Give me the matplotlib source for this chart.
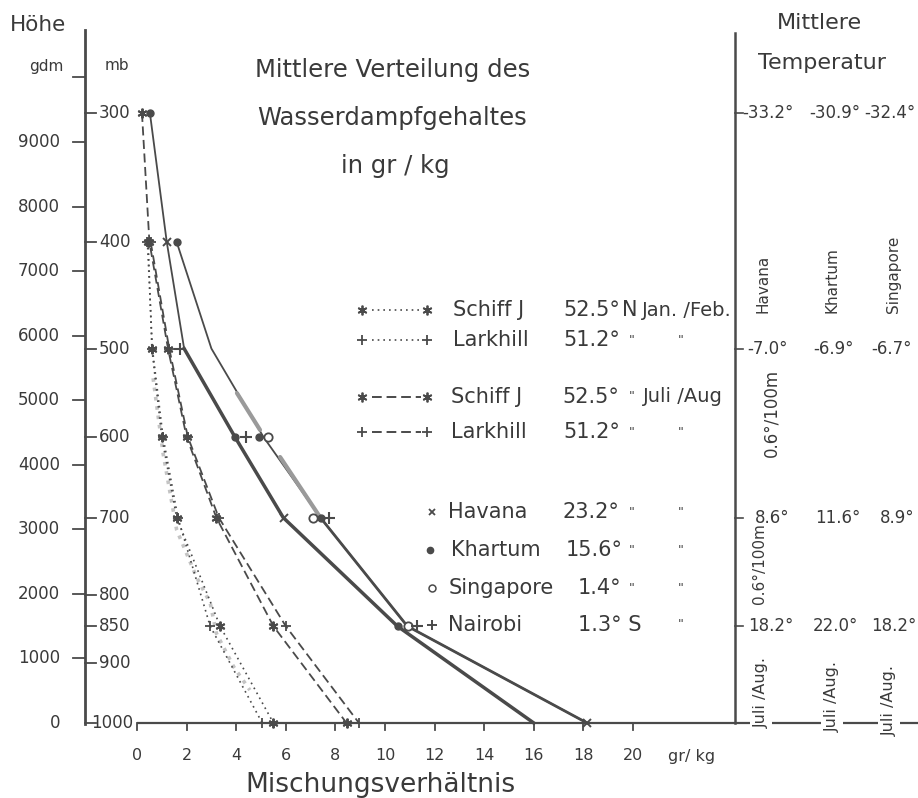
import matplotlib
matplotlib.use("Agg")
import matplotlib.pyplot as plt
import matplotlib.transforms as mtransforms

plt.rcParams['font.family'] = ['DejaVu Sans']

# ---------------- data ----------------
x_ticks = [0, 2, 4, 6, 8, 10, 12, 14, 16, 18, 20]
height_ticks = [0, 1000, 2000, 3000, 4000, 5000, 6000, 7000, 8000, 9000, 10000]
height_labels = ['0', '1000', '2000', '3000', '4000', '5000', '6000', '7000', '8000', '9000', '']
pressure_levels = [300, 400, 500, 600, 700, 800, 850, 900, 1000]
pressure_heights = [9450, 7450, 5800, 4430, 3180, 1990, 1500, 930, 0]

# Europe (mixing ratio g/kg at pressure levels)
schiff_jan_levels = [400, 500, 600, 700, 850, 1000]
schiff_jan = [0.45, 0.6, 1.0, 1.6, 3.35, 5.5]
larkhill_jan_levels = [400, 500, 600, 700, 850, 1000]
larkhill_jan = [0.42, 0.62, 1.05, 1.65, 2.95, 5.05]
schiff_jul_levels = [300, 400, 500, 600, 700, 850, 1000]
schiff_jul = [0.2, 0.5, 1.25, 2.0, 3.2, 5.5, 8.45]
larkhill_jul_levels = [400, 500, 600, 700, 850, 1000]
larkhill_jul = [0.55, 1.3, 2.05, 3.3, 6.0, 8.95]

# pale (erased) dotted trace: (mixing ratio, height gdm)
pale_trace_x = [0.65, 1.05, 1.6, 2.4, 2.95, 3.2, 3.9, 4.55]
pale_trace_h = [5340, 4180, 2990, 2260, 1860, 1390, 870, 510]

# tropical curves
curve_a_levels = [300, 400, 500, 600, 700, 850, 1000]
curve_a = [0.52, 1.2, 1.9, 3.95, 5.9, 10.5, 16.0]
curve_b_levels = [400, 500, 600, 700, 850, 1000]
curve_b = [1.6, 3.0, 5.1, 7.4, 10.9, 18.15]
curve_b_gray_x = [[4.03, 4.96], [5.77, 7.38]]
curve_b_gray_h = [[5110, 4540], [4120, 3190]]

havana_levels = [400, 700, 1000]
havana_pts = [1.2, 5.93, 18.15]
khartum_levels = [300, 400, 600, 600, 700, 850]
khartum_pts = [0.52, 1.6, 3.95, 4.9, 7.4, 10.52]
singapore_levels = [600, 700, 850]
singapore_pts = [5.3, 7.1, 10.93]
nairobi_levels = [500, 600, 700, 850]
nairobi_pts = [1.73, 4.4, 7.75, 11.3]

stations_right = ['Havana', 'Khartum', 'Singapore']
temp_300 = ['-33.2°', '-30.9°', '-32.4°']
temp_500 = ['-7.0°', '-6.9°', '-6.7°']
temp_700 = ['8.6°', '11.6°', '8.9°']
temp_850 = ['18.2°', '22.0°', '18.2°']

# ---------------- figure ----------------
W, H = 918, 798
INK = '#4a4a4a'
TXT = '#3a3a3a'
fig = plt.figure(figsize=(W / 100, H / 100), dpi=100)
ax = fig.add_axes([0, 0, 1, 1])
X0_PX, PX_PER_UNIT = 137, 24.8
Y0_PX, PX_PER_GDM = 723, 0.06456
ax.set_xlim((0 - X0_PX) / PX_PER_UNIT, (W - X0_PX) / PX_PER_UNIT)
ax.set_ylim((Y0_PX - H) / PX_PER_GDM, Y0_PX / PX_PER_GDM)
ax.axis('off')

pix = mtransforms.Affine2D().scale(1 / W, -1 / H).translate(0, 1) + fig.transFigure
xpix_ydata = mtransforms.blended_transform_factory(pix, ax.transData)
xdata_ypix = mtransforms.blended_transform_factory(ax.transData, pix)

lvl = dict(zip(pressure_levels, pressure_heights))
def hts(levels):
    return [lvl[p] for p in levels]

# ---------- axes ----------
# bottom axis
ax.plot([x_ticks[0], ax.get_xlim()[1]], [0, 0], color=INK, lw=1.6, solid_capstyle='butt')
for t in x_ticks:
    ax.plot([t, t], [723, 730], color=INK, lw=1.3, transform=xdata_ypix)
    ax.text(t, 756, str(t), transform=xdata_ypix, ha='center', va='center',
            fontsize=11.5, color=TXT)
ax.text(692, 757, 'gr/ kg', transform=pix, ha='center', va='center', fontsize=11.5, color=TXT)
ax.text(380, 785, 'Mischungsverhältnis', transform=pix, ha='center', va='center',
        fontsize=19, color=TXT)

# left vertical axis
ax.plot([85, 85], [-20, 10740], color=INK, lw=2.0, transform=xpix_ydata)
for h, lab in zip(height_ticks, height_labels):
    if h > 0:
        ax.plot([73, 85], [h, h], color=INK, lw=1.3, transform=xpix_ydata)
    if lab:
        ax.text(60, h, lab, transform=xpix_ydata, ha='right', va='center',
                fontsize=12, color=TXT)
for p, h in zip(pressure_levels, pressure_heights):
    ax.plot([85, 96], [h, h], color=INK, lw=1.3, transform=xpix_ydata)
    ax.text(91 if p == 1000 else 99, h, str(p), transform=xpix_ydata, ha='left',
            va='center', fontsize=12, color=TXT)

ax.text(10, 25, 'Höhe', transform=pix, ha='left', va='center', fontsize=15.5, color=TXT)
ax.text(46, 67, 'gdm', transform=pix, ha='center', va='center', fontsize=11, color=TXT)
ax.text(117, 66, 'mb', transform=pix, ha='center', va='center', fontsize=11, color=TXT)

# title
ax.text(393, 70, 'Mittlere Verteilung des', transform=pix, ha='center', va='center',
        fontsize=17.5, color=TXT)
ax.text(392, 118, 'Wasserdampfgehaltes', transform=pix, ha='center', va='center',
        fontsize=17.5, color=TXT)
ax.text(395, 166, 'in gr / kg', transform=pix, ha='center', va='center',
        fontsize=17.5, color=TXT)

# right vertical line with temperature ticks
ax.plot([735, 735], [lvl[1000], 10690], color=INK, lw=1.8, transform=xpix_ydata)
for p in [300, 500, 700, 850]:
    ax.plot([735, 743], [lvl[p], lvl[p]], color=INK, lw=1.2, transform=xpix_ydata)
ax.text(819, 23, 'Mittlere', transform=pix, ha='center', va='center', fontsize=16, color=TXT)
ax.text(822, 63, 'Temperatur', transform=pix, ha='center', va='center', fontsize=16, color=TXT)

col_x = [{'300': 768, '500': 768, '700': 772, '850': 771},
         {'300': 835, '500': 833, '700': 838, '850': 835},
         {'300': 890, '500': 891, '700': 897, '850': 894}]
for i in range(3):
    for key, vals in [('300', temp_300), ('500', temp_500), ('700', temp_700), ('850', temp_850)]:
        ax.text(col_x[i][key], lvl[int(key)], vals[i], transform=xpix_ydata,
                ha='center', va='center', fontsize=12, color=TXT)
for name, x, yb in zip(stations_right, [763, 832, 893], [313, 313, 313]):
    ax.text(x, yb, name, transform=pix, rotation=90, ha='center', va='bottom',
            fontsize=11, color=TXT)
ax.text(771, 413, '0.6°/100m', transform=pix, rotation=90, ha='center', va='center',
        fontsize=12, color=TXT)
ax.text(760, 564, '0.6°/100m', transform=pix, rotation=90, ha='center', va='center',
        fontsize=11, color=TXT)
for x, y in [(761, 693), (832, 697), (889, 700)]:
    ax.text(x, y, 'Juli /Aug.', transform=pix, rotation=90, ha='center', va='center',
            fontsize=11.5, color=TXT,
            bbox=dict(boxstyle='square,pad=0.25', fc='white', ec='none'))

# ---------- data curves ----------
dot = (0, (1, 2.4))
dash = (0, (5, 2.5))
ast = (6, 2, 0)

ax.plot(pale_trace_x, pale_trace_h, color='#c4c4c4', lw=2.6, ls=(0, (1, 1.6)))

ax.plot(schiff_jan, hts(schiff_jan_levels), color=INK, lw=1.2, ls=dot,
        marker=ast, ms=7, mew=1.4)
ax.plot(larkhill_jan, hts(larkhill_jan_levels), color=INK, lw=1.2, ls=dot,
        marker='+', ms=7, mew=1.3)
ax.plot(schiff_jul, hts(schiff_jul_levels), color=INK, lw=1.3, ls=dash,
        marker=ast, ms=7, mew=1.4)
ax.plot(larkhill_jul, hts(larkhill_jul_levels), color=INK, lw=1.3, ls=dash,
        marker='+', ms=7, mew=1.3)

ax.plot(curve_a, hts(curve_a_levels), color=INK, lw=1.3)
ax.plot(curve_a[2:], hts(curve_a_levels[2:]), color=INK, lw=2.5)
ax.plot(curve_b, hts(curve_b_levels), color=INK, lw=1.3)
ax.plot(curve_b[3:], hts(curve_b_levels[3:]), color=INK, lw=2.0)
for gx, gh in zip(curve_b_gray_x, curve_b_gray_h):
    ax.plot(gx, gh, color='#9a9a9a', lw=3.0, solid_capstyle='round')

ax.plot(havana_pts, hts(havana_levels), ls='none', marker='x', ms=6, mew=1.4, color=INK)
ax.plot(khartum_pts, hts(khartum_levels), ls='none', marker='o', ms=5, color=INK)
ax.plot(singapore_pts, hts(singapore_levels), ls='none', marker='o', ms=6, mew=1.3,
        mfc='white', color=INK)
ax.plot(nairobi_pts, hts(nairobi_levels), ls='none', marker='+', ms=8, mew=1.5, color=INK)

# ---------- legend block ----------
rows_y = [310, 340, 397, 432, 512, 550, 588, 625]
names = ['Schiff J', 'Larkhill', 'Schiff J', 'Larkhill', 'Havana', 'Khartum', 'Singapore', 'Nairobi']
names_x = [453, 453, 451, 451, 448, 451, 449, 448]
lats = ['52.5°', '51.2°', '52.5°', '51.2°', '23.2°', '15.6°', '1.4°', '1.3° S']
lats_x = [563, 563, 562, 563, 563, 566, 578, 578]
for y, n, nx, la, lx in zip(rows_y, names, names_x, lats, lats_x):
    ax.text(nx, y, n, transform=pix, ha='left', va='center', fontsize=15, color=TXT)
    ax.text(lx, y, la, transform=pix, ha='left', va='center', fontsize=15, color=TXT)
ax.text(622, rows_y[0], 'N', transform=pix, ha='left', va='center', fontsize=15, color=TXT)
ax.text(642, rows_y[0], 'Jan. /Feb.', transform=pix, ha='left', va='center', fontsize=14, color=TXT)
ax.text(643, rows_y[2], 'Juli /Aug', transform=pix, ha='left', va='center', fontsize=14, color=TXT)
for i, y in enumerate(rows_y):
    if i not in (0, 7):
        ax.text(632, y, '"', transform=pix, ha='center', va='center', fontsize=9, color=TXT)
    if i not in (0, 2):
        ax.text(681, y, '"', transform=pix, ha='center', va='center', fontsize=9, color=TXT)

# legend keys
for y, ls, mk in [(rows_y[0], dot, ast), (rows_y[1], dot, '+'),
                  (rows_y[2], dash, ast), (rows_y[3], dash, '+')]:
    ax.plot([372, 421], [y, y], transform=pix, color=INK, lw=1.2 if ls == dot else 1.4, ls=ls)
    ax.plot([362, 427], [y, y], transform=pix, ls='none', marker=mk, ms=7, mew=1.3, color=INK)
ax.plot([432], [rows_y[4]], transform=pix, ls='none', marker='x', ms=5, mew=1.3, color=INK)
ax.plot([430], [rows_y[5]], transform=pix, ls='none', marker='o', ms=4.5, color=INK)
ax.plot([432], [rows_y[6]], transform=pix, ls='none', marker='o', ms=5, mew=1.1,
        mfc='white', color=INK)
ax.plot([432], [rows_y[7]], transform=pix, ls='none', marker='+', ms=7, mew=1.4, color=INK)

fig.savefig('out.png', dpi=100, facecolor='white')
